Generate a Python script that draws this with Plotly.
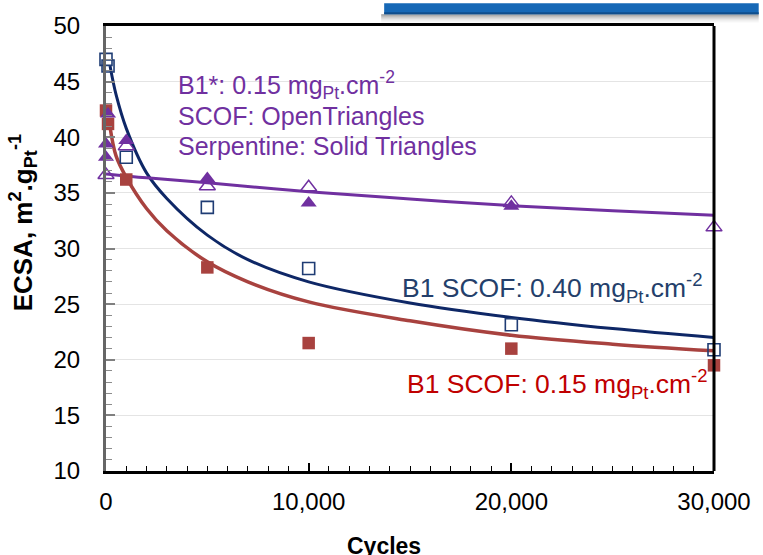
import plotly.graph_objects as go

# ECSA measurements (m2/gPt) versus potential-cycling count
cycles_b1_040 = [0, 100, 1000, 5000, 10000, 20000, 30000]
ecsa_b1_040 = [47.0, 46.4, 38.2, 33.7, 28.2, 23.15, 20.9]

cycles_b1_015 = [0, 100, 1000, 5000, 10000, 20000, 30000]
ecsa_b1_015 = [42.4, 41.2, 36.2, 28.3, 21.5, 21.0, 19.5]

cycles_serpentine = [100, 0, 0, 1000, 5000, 10000, 20000]
ecsa_serpentine = [42.1, 39.4, 38.2, 39.7, 36.3, 34.1, 33.8]

cycles_scof = [0, 1000, 5000, 10000, 20000, 30000]
ecsa_scof = [36.6, 39.2, 35.6, 35.5, 34.1, 31.9]

# trend curves
trend_cycles = [200, 500, 1000, 2000, 3000, 5000, 7000, 10000, 15000, 20000, 25000, 30000]
trend_b1_040 = [46.4, 43.8, 40.8, 36.8, 34.5, 31.2, 29.0, 27.0, 25.1, 23.8, 22.8, 22.0]
trend_b1_015 = [40.9, 38.3, 36.4, 33.6, 31.6, 28.8, 27.0, 25.2, 23.5, 22.2, 21.4, 20.8]

trend_b1star_cycles = [0, 2000, 5000, 10000, 15000, 20000, 25000, 30000]
trend_b1star = [36.7, 36.35, 35.9, 35.1, 34.45, 33.85, 33.4, 33.0]

x_ticks = [0, 10000, 20000, 30000]
y_ticks = [10, 15, 20, 25, 30, 35, 40, 45, 50]

NAVY = "#0E2766"
SQ_BLUE = "#1F3C74"
RED = "#A8423F"
PURPLE = "#7030A0"
FONT = "Liberation Sans, Arial, sans-serif"

W, H = 763, 555
L, R, T, B = 106, 45, 21, 84
PW, PH = W - L - R, H - T - B


def px(x):
    return (x - L) / PW


def py(y):
    return (H - B - y) / PH


fig = go.Figure()

for xs, ys, col, w in [
    (trend_cycles, trend_b1_040, NAVY, 3),
    (trend_cycles, trend_b1_015, RED, 3.5),
    (trend_b1star_cycles, trend_b1star, PURPLE, 3),
]:
    fig.add_trace(go.Scatter(x=xs, y=ys, mode="lines", line=dict(color=col, width=w, shape="spline", smoothing=1.0),
                             hoverinfo="skip", showlegend=False, cliponaxis=False))

fig.add_trace(go.Scatter(x=cycles_b1_040, y=ecsa_b1_040, mode="markers", cliponaxis=False, showlegend=False,
                         marker=dict(symbol="square-open", size=12, color=SQ_BLUE, line=dict(width=1.6, color=SQ_BLUE))))
fig.add_trace(go.Scatter(x=cycles_b1_015, y=ecsa_b1_015, mode="markers", cliponaxis=False, showlegend=False,
                         marker=dict(symbol="square", size=12.5, color=RED)))
fig.add_trace(go.Scatter(x=cycles_serpentine, y=ecsa_serpentine, mode="markers", cliponaxis=False, showlegend=False,
                         marker=dict(symbol="triangle-up", size=14, color=PURPLE)))
fig.add_trace(go.Scatter(x=cycles_scof, y=ecsa_scof, mode="markers", cliponaxis=False, showlegend=False,
                         marker=dict(symbol="triangle-up-open", size=14, color=PURPLE, line=dict(width=1.5, color=PURPLE))))

annotations = [
    dict(x=px(176), y=py(81), text="B1*: 0.15 mg<sub>Pt</sub>.cm<sup>-2</sup>", xanchor="left", yanchor="middle",
         font=dict(size=25, color=PURPLE)),
    dict(x=px(176), y=py(112), text="SCOF: OpenTriangles", xanchor="left", yanchor="middle",
         font=dict(size=25, color=PURPLE)),
    dict(x=px(176), y=py(142), text="Serpentine: Solid Triangles", xanchor="left", yanchor="middle",
         font=dict(size=25, color=PURPLE)),
    dict(x=px(709), y=py(286), text="B1 SCOF: 0.40 mg<sub>Pt</sub>.cm<sup>-2</sup>", xanchor="right", yanchor="middle",
         font=dict(size=26.5, color="#243F6B")),
    dict(x=px(714), y=py(383), text="B1 SCOF: 0.15 mg<sub>Pt</sub>.cm<sup>-2</sup>", xanchor="right", yanchor="middle",
         font=dict(size=26.5, color="#C00000")),
    dict(x=px(22), y=py(220), text="<b>ECSA, m<sup>2</sup>.g<sub>Pt</sub><sup>-1</sup></b>", textangle=-90,
         xanchor="center", yanchor="middle", font=dict(size=26, color="#000000")),
    dict(x=px(386), y=py(547), text="<b>Cycles</b>", xanchor="center", yanchor="middle",
         font=dict(size=23, color="#000000")),
]
for a in annotations:
    a.update(xref="paper", yref="paper", showarrow=False)

shapes = [
    # right border of the plot frame
    dict(type="line", xref="paper", yref="paper", x0=1, x1=1, y0=0, y1=1, line=dict(color="#000000", width=3),
         layer="above"),
]
# banner strip across the top right with its soft drop shadow
for i, g in enumerate([0.75, 0.6, 0.47, 0.36, 0.27, 0.19, 0.12, 0.07, 0.03]):
    shapes.append(dict(type="rect", xref="paper", yref="paper", x0=px(383), x1=px(763), y0=py(10 + i), y1=py(9 + i),
                       line=dict(width=0), fillcolor=f"rgba(120,120,120,{g})", layer="above"))
shapes.append(dict(type="rect", xref="paper", yref="paper", x0=px(386), x1=px(763), y0=py(9), y1=py(-2),
                   line=dict(width=0), fillcolor="#1668B6", layer="above"))
shapes.append(dict(type="rect", xref="paper", yref="paper", x0=px(386), x1=px(763), y0=py(9), y1=py(7),
                   line=dict(width=0), fillcolor="#0F4E8C", layer="above"))

fig.update_layout(
    width=W, height=H,
    margin=dict(l=L, r=R, t=T, b=B, pad=0),
    paper_bgcolor="white", plot_bgcolor="white",
    font=dict(family=FONT, color="#000000"),
    annotations=annotations, shapes=shapes,
    showlegend=False,
)
fig.update_xaxes(
    range=[0, 30000], tickvals=x_ticks, tickformat=",d",
    showline=True, linecolor="#000000", linewidth=3, mirror=True,
    showgrid=False, zeroline=False,
    ticks="inside", ticklen=8, tickwidth=1.5, tickcolor="#000000",
    minor=dict(dtick=1000, ticks="inside", ticklen=5, tickwidth=1.2, tickcolor="#000000"),
    tickfont=dict(size=24, color="#000000", family=FONT), ticklabelstandoff=7,
)
fig.update_yaxes(
    range=[10, 50], tickvals=y_ticks,
    showline=True, linecolor="#666666", linewidth=3, mirror=False,
    showgrid=True, gridcolor="#E4E4E4", gridwidth=1, zeroline=False,
    ticks="inside", ticklen=9, tickwidth=1.5, tickcolor="#808080",
    minor=dict(dtick=1, ticks="inside", ticklen=6, tickwidth=1.2, tickcolor="#8C8C8C", showgrid=False),
    tickfont=dict(size=24, color="#000000", family=FONT), ticklabelstandoff=18,
)

fig.write_html("out.html")
